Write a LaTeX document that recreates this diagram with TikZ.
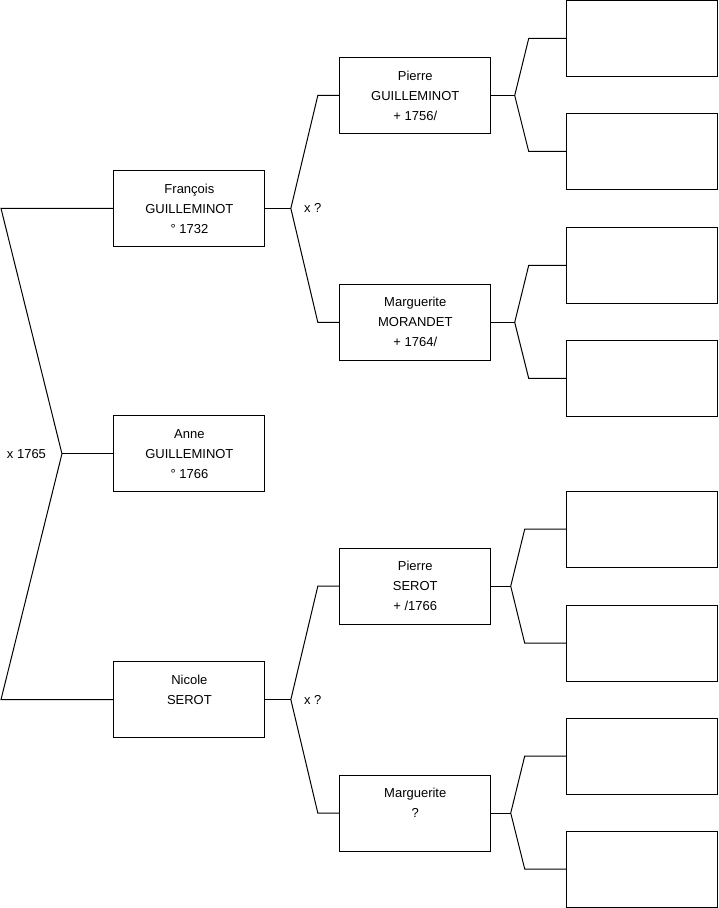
\documentclass[tikz,border=0pt]{standalone}
\usepackage{fontspec}
\setmainfont{Liberation Sans}
\usetikzlibrary{positioning,calc}

\tikzset{
  person/.style={draw, line width=1pt, minimum width=151pt, minimum height=76pt,
    inner sep=0pt, outer sep=0pt, align=center, font=\fontsize{13}{20}\selectfont},
  link/.style={line width=1pt},
  wedding/.style={font=\fontsize{13}{20}\selectfont, inner sep=0pt}
}

\begin{document}
\begin{tikzpicture}[x=1pt,y=-1pt]
  \useasboundingbox (0,-0.5) rectangle (719,908);

  % Generation 1
  \node[person] (ann) at (189.5,453.5) {Anne\\GUILLEMINOT\\\textdegree{} 1766};

  % Generation 2
  \node[person] (fra) at (189.5,208) {François\\GUILLEMINOT\\\textdegree{} 1732};
  \node[person] (nic) at (189.5,699.5) {Nicole\\SEROT\\\phantom{X}};

  % Generation 3
  \node[person] (pg) at (415.5,95) {Pierre\\GUILLEMINOT\\+ 1756/};
  \node[person] (mm) at (415.5,322) {Marguerite\\MORANDET\\+ 1764/};
  \node[person] (ps) at (415.5,586) {Pierre\\SEROT\\+ /1766};
  \node[person] (mq) at (415.5,813) {Marguerite\\?\\\phantom{X}};

  % Generation 4 (empty)
  \foreach \n/\y in {e1/38, e2/151, e3/265, e4/378, e5/529, e6/643, e7/756, e8/869}
    \node[person] (\n) at (642.5,\y) {};

  % Parents of Anne
  \coordinate (top) at (1,208);
  \coordinate (bot) at (1,699.5);
  \coordinate (wed) at (62,453.5);
  \draw[link] (fra.west) -- (top) -- (wed) -- (bot) -- (nic.west);
  \draw[link] (wed) -- (ann.west);
  \node[wedding] (w1) at (26.5,453.5) {x 1765};

  % Parents of François and Nicole
  \foreach \c/\a/\b in {fra/pg/mm, nic/ps/mq} {
    \coordinate (\c-fork) at ([xshift=26pt]\c.east);
    \draw[link] (\c.east) -- (\c-fork);
    \draw[link] (\a.west) -- ($(\c-fork |- \a.west)+(27,0)$) -- (\c-fork)
      -- ($(\c-fork |- \b.west)+(27,0)$) -- (\b.west);
  }
  \node[wedding, anchor=west] (w2) at (304,208) {x ?};
  \node[wedding, anchor=west] (w3) at (304,699.5) {x ?};

  % Parents of generation 3
  \foreach \p/\a/\b/\d in {pg/e1/e2/24, mm/e3/e4/24, ps/e5/e6/20, mq/e7/e8/20} {
    \coordinate (\p-fork) at ([xshift=\d pt]\p.east);
    \draw[link] (\p.east) -- (\p-fork);
    \draw[link] (\a.west) -- ($(\p-fork |- \a.west)+(14,0)$) -- (\p-fork)
      -- ($(\p-fork |- \b.west)+(14,0)$) -- (\b.west);
  }
\end{tikzpicture}
\end{document}
